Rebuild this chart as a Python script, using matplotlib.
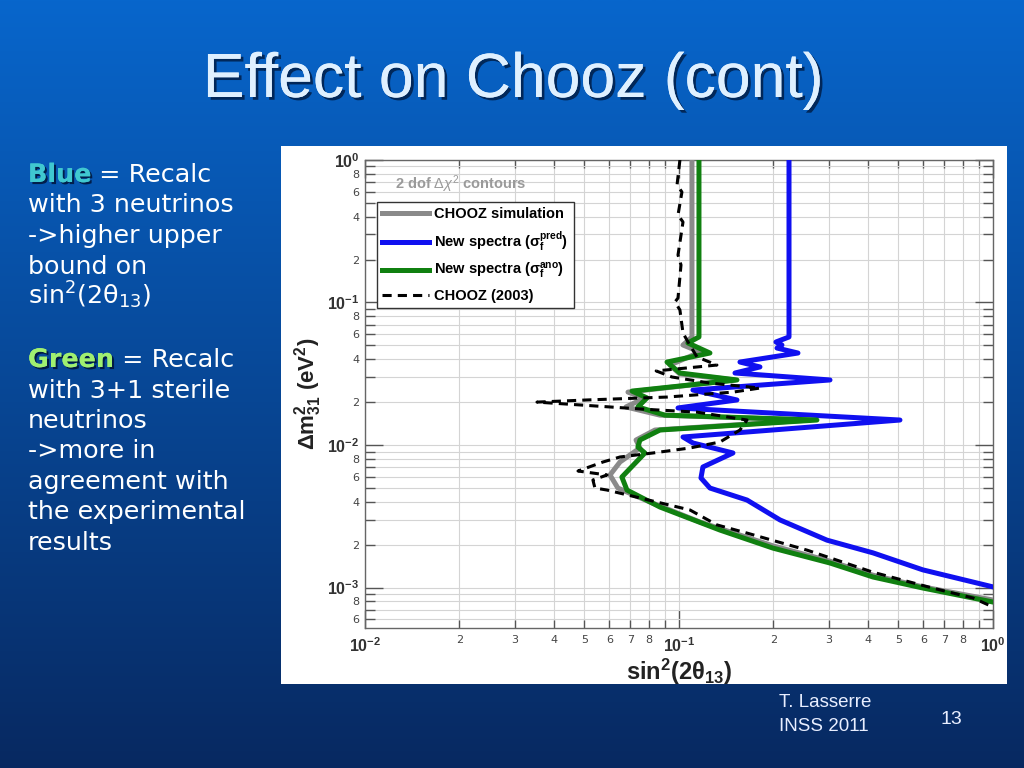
import numpy as np
import matplotlib
matplotlib.use("Agg")
import matplotlib.pyplot as plt
import matplotlib.patheffects as pe
from matplotlib.ticker import FixedLocator, FixedFormatter

plt.rcParams['mathtext.fontset'] = 'custom'
plt.rcParams['mathtext.rm'] = 'Liberation Sans'
plt.rcParams['mathtext.it'] = 'Liberation Sans:italic'
plt.rcParams['mathtext.bf'] = 'Liberation Sans:bold'

# CHOOZ simulation (grey)
sim_sin2 = [0.110, 0.110, 0.103, 0.1167, 0.0936, 0.1007, 0.1508, 0.0688, 0.0779, 0.0678, 0.0870, 0.2614,
            0.0839, 0.0730, 0.0751, 0.0649, 0.0603, 0.0639, 0.0808, 0.1167, 0.1993, 0.3027, 0.415, 0.598, 1.0]
sim_dm2 = [1.0, 0.0573, 0.0503, 0.0449, 0.0364, 0.0315, 0.0286, 0.0235, 0.0214, 0.0185, 0.0162, 0.01497,
           0.01274, 0.01084, 0.00953, 0.0076, 0.00616, 0.00499, 0.00398, 0.00288, 0.00196, 0.00153, 0.00122,
           0.00101, 0.000817]

# new spectra, sigma_f pred (blue)
pred_sin2 = [0.2241, 0.2241, 0.2036, 0.2128, 0.2052, 0.2393, 0.1564, 0.1811, 0.1508, 0.3027, 0.1108, 0.1530,
             0.0993, 0.5056, 0.1030, 0.1108, 0.1486, 0.1192, 0.1175, 0.1255, 0.1647, 0.2098, 0.296, 0.415,
             0.598, 1.0]
pred_dm2 = [1.0, 0.0573, 0.0528, 0.0503, 0.0479, 0.0442, 0.0382, 0.0353, 0.0320, 0.0286, 0.0243, 0.0207,
            0.0182, 0.01497, 0.01138, 0.01033, 0.00879, 0.00701, 0.00587, 0.00499, 0.00411, 0.00298,
            0.00215, 0.00175, 0.00133, 0.00101]

# new spectra, sigma_f ano (green)
ano_sin2 = [0.1158, 0.1158, 0.1068, 0.1255, 0.0916, 0.1007, 0.1530, 0.0709, 0.0791, 0.0740, 0.0902, 0.275,
            0.0870, 0.0751, 0.0740, 0.0779, 0.0658, 0.0683, 0.0870, 0.1351, 0.1993, 0.3027, 0.415, 0.598, 1.0]
ano_dm2 = [1.0, 0.0573, 0.0520, 0.0442, 0.0382, 0.0320, 0.0286, 0.0239, 0.0214, 0.0185, 0.0162, 0.01497,
           0.01274, 0.01084, 0.00968, 0.00879, 0.00596, 0.00483, 0.00367, 0.00253, 0.00189, 0.001486,
           0.001185, 0.000992, 0.000791]

# CHOOZ (2003) published contour (black dashed)
c03_sin2 = [0.1007, 0.0986, 0.1022, 0.0993, 0.1030, 0.0993, 0.1015, 0.0993, 0.0971, 0.1007, 0.1030, 0.1060,
            0.1141, 0.1321, 0.0846, 0.0950, 0.1255, 0.1811, 0.1486, 0.0916, 0.0509, 0.0353, 0.0484, 0.0751,
            0.1141, 0.1647, 0.1564, 0.1351, 0.1084, 0.0826, 0.0649, 0.0573, 0.0477, 0.0590, 0.0532, 0.0540,
            0.0590, 0.0751, 0.1084, 0.1321, 0.1647, 0.2557, 0.415, 0.644, 0.864, 1.0]
c03_dm2 = [1.0, 0.668, 0.596, 0.411, 0.367, 0.2154, 0.1834, 0.1075, 0.1008, 0.0886, 0.0611, 0.0545, 0.0415,
           0.0364, 0.0331, 0.0300, 0.0272, 0.0251, 0.0235, 0.0217, 0.0207, 0.0200, 0.0191, 0.0179, 0.0170,
           0.01497, 0.01274, 0.0105, 0.00953, 0.00879, 0.00824, 0.0076, 0.00657, 0.00616, 0.00568, 0.00499,
           0.00483, 0.00425, 0.00350, 0.00275, 0.00241, 0.00183, 0.00128, 0.00099, 0.000844, 0.00073]

x_major = [0.01, 0.1, 1.0]
x_major_labels = [r'$\mathbf{10^{-2}}$', r'$\mathbf{10^{-1}}$', r'$\mathbf{10^{0}}$']
y_major = [0.001, 0.01, 0.1, 1.0]
y_major_labels = [r'$\mathbf{10^{-3}}$', r'$\mathbf{10^{-2}}$', r'$\mathbf{10^{-1}}$', r'$\mathbf{10^{0}}$']

left_lines = [
    ("Blue", " = Recalc"),
    (None, "with 3 neutrinos"),
    (None, "->higher upper"),
    (None, "bound on"),
    (None, r"sin$^{2}$(2θ$_{13}$)"),
    ("Green", " = Recalc"),
    (None, "with 3+1 sterile"),
    (None, "neutrinos"),
    (None, "->more in"),
    (None, "agreement with"),
    (None, "the experimental"),
    (None, "results"),
]
left_baselines = [182, 212.5, 243, 273.5, 304, 367, 397.5, 428, 458.5, 489, 519.5, 550]

fig = plt.figure(figsize=(10.24, 7.68), dpi=100)

# slide background
bg = fig.add_axes([0, 0, 1, 1])
top = np.array([0.03, 0.40, 0.80])
bot = np.array([0.03, 0.16, 0.38])
t = np.linspace(0, 1, 256)[:, None]
grad = (top[None, :] * (1 - t) + bot[None, :] * t)[:, None, :]
bg.imshow(grad, aspect='auto', extent=[0, 1, 0, 1])
bg.set_xlim(0, 1)
bg.set_ylim(0, 1)
bg.axis('off')

# white picture panel
panel = fig.add_axes([0.2744, 0.1094, 0.709, 0.7005])
panel.set_facecolor('white')
panel.set_xticks([])
panel.set_yticks([])
for s in panel.spines.values():
    s.set_visible(False)

ax = fig.add_axes([0.3564, 0.1823, 0.6133, 0.6094])
ax.set_xscale('log')
ax.set_yscale('log')

ax.plot(pred_sin2, pred_dm2, color='#1010f0', lw=3.6, solid_joinstyle='round', zorder=3)
ax.plot(sim_sin2, sim_dm2, color='#8a8a8a', lw=3.6, solid_joinstyle='round', zorder=4)
ax.plot(ano_sin2, ano_dm2, color='#108010', lw=3.6, solid_joinstyle='round', zorder=5)
ax.plot(c03_sin2, c03_dm2, color='black', lw=2.2, ls=(0, (3, 2)), zorder=6)

ax.set_xlim(0.01, 1.0)
ax.set_ylim(5.2e-4, 1.0)

# ticks and labels
ax.xaxis.set_major_locator(FixedLocator(x_major))
ax.xaxis.set_major_formatter(FixedFormatter(x_major_labels))
x_minor = [m * d for d in [0.01, 0.1] for m in range(2, 10)]
ax.xaxis.set_minor_locator(FixedLocator(x_minor))
ax.xaxis.set_minor_formatter(FixedFormatter([str(m) if m < 9 else '' for d in [0.01, 0.1] for m in range(2, 10)]))

ax.yaxis.set_major_locator(FixedLocator(y_major))
ax.yaxis.set_major_formatter(FixedFormatter(y_major_labels))
y_minor = [m * d for d in [0.0001, 0.001, 0.01, 0.1] for m in range(2, 10)]
ax.yaxis.set_minor_locator(FixedLocator(y_minor))
ax.yaxis.set_minor_formatter(FixedFormatter([str(m) if m % 2 == 0 else '' for d in [0.0001, 0.001, 0.01, 0.1] for m in range(2, 10)]))

ax.tick_params(which='both', direction='in', top=True, right=True, color='#555555')
ax.tick_params(axis='x', which='major', length=13, width=1, labelsize=11.5, pad=6, labelcolor='#333333')
ax.tick_params(axis='x', which='minor', length=6, width=1, labelsize=8, pad=5, labelcolor='#444444')
ax.tick_params(axis='y', which='major', length=13, width=1, labelsize=11.5, pad=4, labelcolor='#333333')
ax.tick_params(axis='y', which='minor', length=7, width=1, labelsize=8, pad=4, labelcolor='#444444')

ax.grid(True, which='both', color='#d4d4d4', lw=0.8)
ax.set_axisbelow(True)
for s in ax.spines.values():
    s.set_color('#666666')
    s.set_linewidth(1.0)

ax.set_xlabel(r'$\mathbf{sin^{2}(2\theta_{13})}$', fontsize=17, color='#222222', labelpad=1)
ax.set_ylabel(r'$\mathbf{\Delta m^{2}_{31}\ (eV^{2})}$', fontsize=16, color='#222222', labelpad=2)

ax.text(0.048, 0.949, r'2 dof $\Delta\chi^{2}$ contours', transform=ax.transAxes, fontsize=10.5,
        fontweight='bold', color='#9a9a9a', family='Liberation Sans', va='center', ha='left')

handles = [
    plt.Line2D([], [], color='#8a8a8a', lw=3.6),
    plt.Line2D([], [], color='#1010f0', lw=3.6),
    plt.Line2D([], [], color='#108010', lw=3.6),
    plt.Line2D([], [], color='black', lw=2.2, ls=(0, (3, 2))),
]
labels = ['CHOOZ simulation', r'New spectra ($\mathbf{\sigma_{f}^{pred}}$)',
          r'New spectra ($\mathbf{\sigma_{f}^{ano}}$)', 'CHOOZ (2003)']
leg = ax.legend(handles, labels, loc='upper left', bbox_to_anchor=(0.019, 0.91), frameon=True,
                fancybox=False, edgecolor='#333333', framealpha=1, handlelength=3.2, handletextpad=0.4,
                labelspacing=0.55, borderpad=0.35, borderaxespad=0,
                prop={'family': 'Liberation Sans', 'weight': 'bold', 'size': 10.5})
leg.get_frame().set_linewidth(1.0)

# title
shadow = [pe.withSimplePatchShadow(offset=(2, -2), shadow_rgbFace='#001a40', alpha=0.8), pe.Normal()]
fig.text(0.501, 1 - 97 / 768, 'Effect on Chooz (cont)', ha='center', va='baseline', fontsize=45,
         family='Liberation Sans', color='#dff0ff', path_effects=shadow)

# left text
fig.canvas.draw()
renderer = fig.canvas.get_renderer()
small_shadow = [pe.withSimplePatchShadow(offset=(1.5, -1.5), shadow_rgbFace='#001030', alpha=0.8), pe.Normal()]
for (word, rest), yb in zip(left_lines, left_baselines):
    x0 = 28 / 1024
    y0 = 1 - yb / 768
    if word is not None:
        c = '#40c8d0' if word == 'Blue' else '#a0f070'
        wt = fig.text(x0, y0, word, fontsize=18.3, fontweight='bold', color=c, family='DejaVu Sans',
                      va='baseline', ha='left', path_effects=small_shadow)
        bb = wt.get_window_extent(renderer)
        x0 = bb.x1 / fig.bbox.width
    fig.text(x0, y0, rest, fontsize=18.3, color='white', family='DejaVu Sans', va='baseline', ha='left',
             math_fontfamily='dejavusans')

# footer
fig.text(779 / 1024, 1 - 707 / 768, 'T. Lasserre', fontsize=13.5, color='#e8eeff', family='Liberation Sans',
         va='baseline')
fig.text(779 / 1024, 1 - 731 / 768, 'INSS 2011', fontsize=13.5, color='#e8eeff', family='Liberation Sans',
         va='baseline')
fig.text(951 / 1024, 1 - 724 / 768, '13', fontsize=14, color='#e8eeff', family='Liberation Sans',
         va='baseline', ha='center')

fig.savefig('out.png', dpi=100)
